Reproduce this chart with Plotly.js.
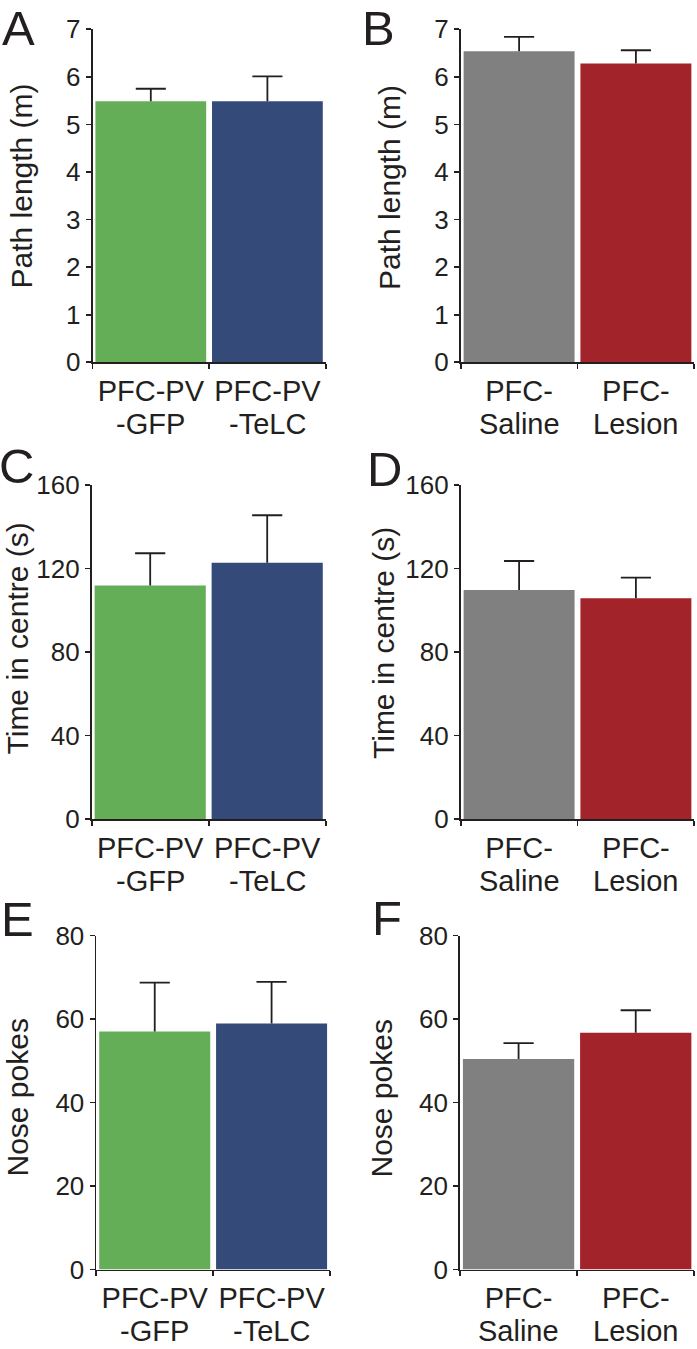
<!DOCTYPE html>
<html>
<head>
<meta charset="utf-8">
<script src="https://cdn.plot.ly/plotly-3.0.1.min.js"></script>
<style>html,body{margin:0;padding:0;background:#fff;}#chart{width:697px;height:1349px;}</style>
</head>
<body>
<div id="chart"></div>
<script>
// ---- data ----
var groupsPV = ['PFC-PV<br>-GFP', 'PFC-PV<br>-TeLC'];
var groupsLesion = ['PFC-<br>Saline', 'PFC-<br>Lesion'];

var pathPV = [5.49, 5.49];
var pathPVErr = [0.26, 0.52];
var pathLesion = [6.54, 6.28];
var pathLesionErr = [0.30, 0.28];

var centrePV = [111.8, 122.8];
var centrePVErr = [15.5, 22.7];
var centreLesion = [109.7, 105.7];
var centreLesionErr = [13.9, 9.9];

var pokesPV = [57.0, 58.9];
var pokesPVErr = [11.7, 10.0];
var pokesLesion = [50.4, 56.7];
var pokesLesionErr = [3.8, 5.4];

var colorsPV = ['#63AE57', '#344B7A'];
var colorsLesion = ['#808080', '#A2232A'];

var yTitles = ['Path length (m)', 'Path length (m)', 'Time in centre (s)', 'Time in centre (s)', 'Nose pokes', 'Nose pokes'];
var letters = ['A', 'B', 'C', 'D', 'E', 'F'];

var panels = [
  {cats: groupsPV, vals: pathPV, errs: pathPVErr, colors: colorsPV, range: [0, 7], dtick: 1},
  {cats: groupsLesion, vals: pathLesion, errs: pathLesionErr, colors: colorsLesion, range: [0, 7], dtick: 1},
  {cats: groupsPV, vals: centrePV, errs: centrePVErr, colors: colorsPV, range: [0, 160], dtick: 40},
  {cats: groupsLesion, vals: centreLesion, errs: centreLesionErr, colors: colorsLesion, range: [0, 160], dtick: 40},
  {cats: groupsPV, vals: pokesPV, errs: pokesPVErr, colors: colorsPV, range: [0, 80], dtick: 20},
  {cats: groupsLesion, vals: pokesLesion, errs: pokesLesionErr, colors: colorsLesion, range: [0, 80], dtick: 20}
];

// ---- layout geometry (pixels) ----
var W = 697, H = 1349;
var boxes = [
  [92.5, 325.7, 29.3, 362.3],
  [460.7, 694.3, 29.3, 362.3],
  [91.7, 325.7, 485, 819],
  [460.7, 694.3, 485, 819],
  [96.3, 330, 935.5, 1269.5],
  [460, 694.3, 935.5, 1269.5]
];
var letterPos = [[18.5, 28], [378, 28], [16.5, 466.5], [384, 468.5], [17, 919], [387, 918]];
var titlePos = [[21, 186.5], [389.5, 187.5], [17, 638.5], [384, 643], [17, 1097.5], [380.5, 1099]];
var line2Offset = 61.5; // px below the x axis, middle of second label line

var ink = '#231F20';
var font = 'Liberation Sans, Arial, sans-serif';
var traces = [];
var layout = {
  width: W, height: H,
  margin: {l: 0, r: 0, t: 0, b: 0},
  paper_bgcolor: '#fff', plot_bgcolor: '#fff',
  showlegend: false,
  bargap: 0.05,
  font: {family: font, color: ink},
  annotations: []
};

panels.forEach(function (p, i) {
  var n = i + 1;
  var sfx = (n === 1 ? '' : String(n));
  var xa = 'x' + sfx, ya = 'y' + sfx;
  var b = boxes[i];
  var idx = p.cats.map(function (c, k) { return k; });
  var first = p.cats.map(function (c) { return c.split('<br>')[0]; });
  var second = p.cats.map(function (c) { return c.split('<br>')[1] || ''; });
  traces.push({
    type: 'bar', x: idx, y: p.vals, xaxis: xa, yaxis: ya,
    marker: {color: p.colors, line: {width: 0}},
    hoverinfo: 'skip'
  });
  var tops = p.vals.map(function (v, k) { return v + p.errs[k]; });
  traces.push({
    type: 'scatter', mode: 'markers', x: idx, y: tops, xaxis: xa, yaxis: ya,
    marker: {size: 1, color: 'rgba(0,0,0,0)'},
    error_y: {type: 'data', symmetric: false, array: [0, 0], arrayminus: p.errs, width: 0, thickness: 1.8, color: ink},
    error_x: {type: 'constant', value: 0.129, width: 0, thickness: 1.8, color: ink},
    hoverinfo: 'skip'
  });
  layout['xaxis' + sfx] = {
    domain: [b[0] / W, b[1] / W], anchor: ya,
    range: [-0.5, 1.5],
    tickmode: 'array', tickvals: idx, ticktext: first,
    ticks: 'outside', ticklen: 5, tickwidth: 1.8, tickcolor: 'rgba(0,0,0,0)',
    ticklabelstandoff: -3,
    minor: {tickmode: 'linear', tick0: -0.5, dtick: 1, ticks: 'outside', ticklen: 5, tickwidth: 1.8, tickcolor: ink, showgrid: false},
    showline: true, linecolor: ink, linewidth: 1.8,
    showgrid: false, zeroline: false, fixedrange: true,
    tickfont: {size: 29, color: ink, family: font}
  };
  layout['yaxis' + sfx] = {
    domain: [1 - b[3] / H, 1 - b[2] / H], anchor: xa,
    range: p.range, dtick: p.dtick, tick0: 0,
    showline: true, linecolor: ink, linewidth: 1.8,
    ticks: 'outside', ticklen: 5, tickwidth: 1.8, tickcolor: ink,
    showgrid: false, zeroline: false, fixedrange: true,
    tickfont: {size: 26, color: ink, family: font}
  };
  second.forEach(function (t, k) {
    layout.annotations.push({
      text: t, xref: xa, yref: 'paper',
      x: idx[k], y: 1 - (b[3] + line2Offset) / H,
      xanchor: 'center', yanchor: 'middle', showarrow: false, borderpad: 0,
      font: {size: 29, color: ink, family: font}
    });
  });
  layout.annotations.push({
    text: yTitles[i], xref: 'paper', yref: 'paper',
    x: titlePos[i][0] / W, y: 1 - titlePos[i][1] / H,
    xanchor: 'center', yanchor: 'middle', textangle: -90, showarrow: false, borderpad: 0,
    font: {size: 30, color: ink, family: font}
  });
  layout.annotations.push({
    text: letters[i], xref: 'paper', yref: 'paper',
    x: letterPos[i][0] / W, y: 1 - letterPos[i][1] / H,
    xanchor: 'center', yanchor: 'middle', showarrow: false, borderpad: 0,
    font: {size: 49, color: ink, family: font}
  });
});

Plotly.newPlot('chart', traces, layout, {displayModeBar: false, staticPlot: true});
</script>
</body>
</html>
